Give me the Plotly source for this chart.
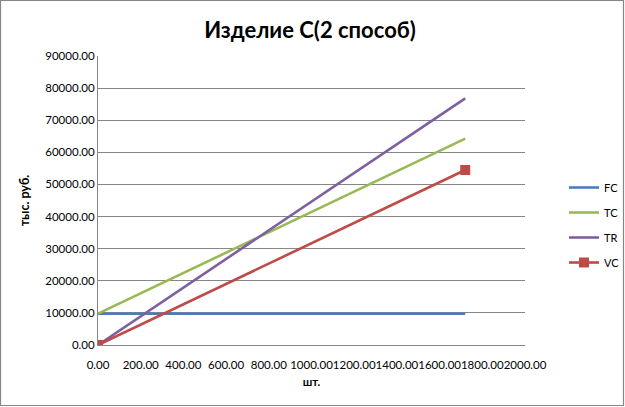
import plotly.graph_objects as go

# Data
x_vals = [0, 1720]
fc = [9750, 9750]
tc = [9750, 64250]
tr = [0, 76800]
vc = [0, 54500]
series_names = ["FC", "TC", "TR", "VC"]
colors = ["#4A7EBB", "#98B954", "#7D60A0", "#BE4B48"]

W, H = 625, 407
ml, mr, mt, mb = 98, 100, 56, 62

fig = go.Figure()
for name, ys, col in zip(series_names, [fc, tc, tr, vc], colors):
    if name == "VC":
        marker = dict(symbol="square", size=10, color=col)
        mode = "lines+markers"
    else:
        marker = dict(size=3, color=col)
        mode = "lines"
    fig.add_trace(go.Scatter(x=x_vals, y=ys, name=name, mode=mode,
                             line=dict(color=col, width=2.6), marker=marker,
                             legendgroup=name))

pw = W - ml - mr
ph = H - mt - mb
fig.add_shape(type="rect", xref="paper", yref="paper",
              x0=(-ml + 0.5) / pw, x1=(W - ml - 1.5) / pw,
              y0=(-mb + 1.5) / ph, y1=(H - mb - 0.5) / ph,
              line=dict(color="#868686", width=1.2), fillcolor="rgba(0,0,0,0)", layer="below")

font_fam = "Lato, 'Open Sans', sans-serif"
fig.update_layout(
    width=W, height=H,
    margin=dict(l=ml, r=mr, t=mt, b=mb, autoexpand=False),
    paper_bgcolor="white", plot_bgcolor="white",
    title=dict(text="<b>Изделие С(2 способ)</b>", x=(310 - ml) / pw, xref="paper", xanchor="center",
               y=1 - 30 / H, yanchor="middle", font=dict(family=font_fam, size=22, color="black")),
    font=dict(family=font_fam, size=11, color="black"),
    xaxis=dict(range=[0, 2000], tickvals=list(range(0, 2001, 200)), tickformat=".2f",
               showgrid=False, showline=True, linecolor="#868686", linewidth=1,
               zeroline=False, ticks="", tickfont=dict(size=11.5), tickangle=0, automargin=False,
               ticklabelstandoff=9,
               title=dict(text="<b>шт.</b>", font=dict(size=11.5), standoff=8)),
    yaxis=dict(range=[0, 90000], tickvals=list(range(0, 90001, 10000)), tickformat=".2f",
               showgrid=True, gridcolor="#868686", gridwidth=1,
               showline=True, linecolor="#868686", linewidth=1, automargin=False,
               zeroline=False, ticks="", tickfont=dict(size=11.5),
               title=dict(text="<b>тыс. руб.</b>", font=dict(size=12.5), standoff=12)),
    legend=dict(x=(564 - ml) / pw, y=(345 - 173) / ph, xanchor="left", yanchor="top",
                font=dict(size=11), tracegroupgap=6, traceorder="grouped",
                bgcolor="rgba(0,0,0,0)", itemwidth=30),
    showlegend=True,
)

fig.write_html("out.html", post_script="document.body.style.margin='0';",
               config={"displayModeBar": False})
